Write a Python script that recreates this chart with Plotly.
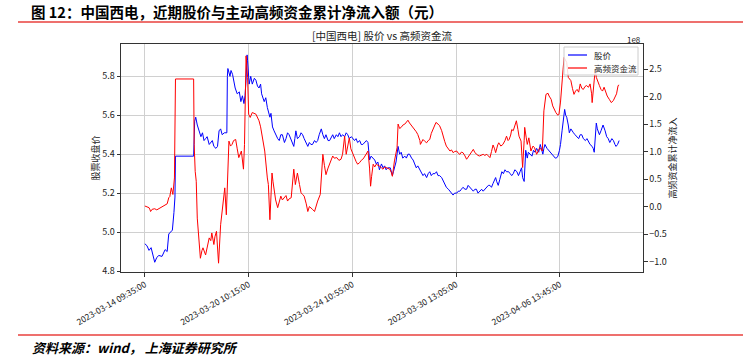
import plotly.graph_objects as go

# ---- data (bar index of 5-minute bars) ----
tick_idx = [0, 200, 400, 600, 800]
tick_labels = ["2023-03-14 09:35:00", "2023-03-20 10:15:00", "2023-03-24 10:55:00",
               "2023-03-30 13:05:00", "2023-04-06 13:45:00"]

price_idx = [0, 4, 8, 12, 19, 23, 27, 33, 39, 43, 46, 50, 53, 56, 58, 59, 94, 96, 98, 101,
             104, 108, 111, 114, 117, 120, 124, 127, 130, 133, 137, 140, 143, 146, 149, 153,
             156, 158, 159, 160, 164, 166, 169, 172, 174, 178, 182, 185, 188, 191, 193, 195,
             197, 198, 199, 201, 204, 207, 211, 214, 217, 220, 223, 225, 230, 233, 236, 241,
             243, 246, 249, 252, 256, 259, 262, 265, 269, 272, 275, 278, 282, 287, 289, 291,
             294, 298, 301, 304, 307, 311, 314, 317, 320, 323, 327, 330, 333, 336, 340, 343,
             346, 349, 353, 356, 359, 362, 365, 369, 372, 375, 378, 381, 385, 388, 391, 394,
             398, 401, 404, 407, 410, 414, 417, 420, 423, 427, 430, 431, 433, 436, 440, 443,
             446, 449, 452, 456, 459, 462, 465, 468, 473, 477, 479, 481, 484, 488, 491, 494,
             497, 501, 504, 507, 510, 514, 517, 520, 523, 526, 530, 533, 536, 539, 543, 546,
             549, 552, 555, 559, 562, 565, 568, 572, 575, 578, 581, 585, 588, 591, 594, 597,
             601, 604, 607, 610, 613, 617, 620, 623, 626, 630, 633, 636, 639, 642, 645, 649,
             652, 655, 659, 662, 665, 668, 671, 674, 676, 678, 681, 684, 688, 691, 694, 697,
             701, 704, 707, 710, 713, 717, 720, 723, 726, 728, 731, 734, 737, 739, 742, 746,
             749, 752, 755, 759, 762, 765, 767, 769, 771, 775, 778, 781, 784, 788, 791, 793,
             796, 799, 801, 804, 806, 809, 811, 813, 816, 818, 821, 823, 826, 829, 832, 836,
             839, 842, 845, 849, 852, 855, 858, 862, 864, 866, 868, 870, 872, 876, 879, 883,
             887, 890, 893, 896, 900, 903, 906, 908, 911, 913, 914]
price = [4.94, 4.93, 4.906, 4.92, 4.845, 4.87, 4.88, 4.875, 4.91, 4.90, 4.99, 5.00, 5.01, 5.10,
         5.18, 5.39, 5.39, 5.57, 5.59, 5.55, 5.52, 5.49, 5.51, 5.47, 5.48, 5.49, 5.45, 5.46,
         5.47, 5.44, 5.43, 5.44, 5.52, 5.53, 5.50, 5.51, 5.51, 5.51, 5.80, 5.84, 5.80, 5.83,
         5.81, 5.77, 5.74, 5.71, 5.72, 5.67, 5.70, 5.66, 5.70, 5.78, 5.91, 5.88, 5.85, 5.76,
         5.80, 5.76, 5.79, 5.78, 5.75, 5.74, 5.76, 5.71, 5.67, 5.69, 5.64, 5.59, 5.61, 5.54,
         5.52, 5.50, 5.48, 5.47, 5.50, 5.50, 5.46, 5.48, 5.51, 5.50, 5.47, 5.44, 5.48, 5.52,
         5.48, 5.49, 5.51, 5.50, 5.48, 5.46, 5.44, 5.46, 5.45, 5.45, 5.47, 5.46, 5.47, 5.50,
         5.53, 5.50, 5.48, 5.50, 5.47, 5.47, 5.49, 5.50, 5.48, 5.50, 5.49, 5.51, 5.49, 5.50,
         5.49, 5.51, 5.50, 5.48, 5.49, 5.48, 5.47, 5.48, 5.46, 5.47, 5.45, 5.45, 5.46, 5.47,
         5.46, 5.42, 5.37, 5.39, 5.38, 5.37, 5.35, 5.36, 5.32, 5.35, 5.33, 5.34, 5.32, 5.33,
         5.33, 5.29, 5.31, 5.33, 5.36, 5.44, 5.40, 5.41, 5.38, 5.39, 5.38, 5.40, 5.40, 5.38,
         5.37, 5.35, 5.33, 5.34, 5.32, 5.31, 5.29, 5.30, 5.28, 5.30, 5.31, 5.29, 5.30, 5.30,
         5.31, 5.29, 5.29, 5.28, 5.26, 5.24, 5.23, 5.22, 5.21, 5.20, 5.19, 5.20, 5.20, 5.21,
         5.21, 5.22, 5.23, 5.22, 5.22, 5.24, 5.23, 5.22, 5.21, 5.22, 5.22, 5.20, 5.21, 5.22,
         5.21, 5.22, 5.23, 5.24, 5.24, 5.23, 5.25, 5.27, 5.28, 5.26, 5.24, 5.27, 5.31, 5.30,
         5.32, 5.31, 5.31, 5.30, 5.29, 5.30, 5.32, 5.31, 5.29, 5.31, 5.33, 5.28, 5.26, 5.42,
         5.38, 5.41, 5.40, 5.39, 5.42, 5.41, 5.43, 5.41, 5.45, 5.42, 5.40, 5.43, 5.45, 5.43,
         5.42, 5.41, 5.40, 5.39, 5.38, 5.38, 5.39, 5.42, 5.45, 5.52, 5.58, 5.63, 5.60, 5.59,
         5.55, 5.51, 5.53, 5.52, 5.51, 5.50, 5.49, 5.48, 5.50, 5.50, 5.48, 5.47, 5.48, 5.46,
         5.45, 5.44, 5.43, 5.41, 5.47, 5.56, 5.53, 5.50, 5.52, 5.55, 5.52, 5.49, 5.48, 5.46,
         5.48, 5.47, 5.45, 5.44, 5.45, 5.47, 5.47]

flow_idx = [0, 2, 4, 8, 10, 11, 14, 19, 23, 27, 30, 33, 36, 43, 46, 48, 51, 54, 57, 59, 94,
            95, 97, 99, 101, 104, 107, 110, 112, 117, 120, 124, 127, 129, 133, 135, 138, 142,
            146, 149, 151, 154, 157, 160, 162, 165, 168, 171, 175, 178, 181, 186, 190, 192,
            195, 198, 200, 203, 207, 214, 217, 220, 223, 226, 231, 236, 238, 241, 243, 245,
            247, 249, 252, 256, 259, 262, 265, 269, 272, 275, 278, 282, 285, 287, 290, 292,
            294, 298, 301, 304, 307, 311, 314, 317, 320, 323, 327, 330, 333, 338, 341, 343,
            346, 349, 353, 356, 359, 362, 365, 370, 374, 378, 381, 385, 388, 391, 394, 397,
            401, 404, 407, 410, 414, 417, 420, 423, 427, 430, 433, 435, 437, 440, 443, 446,
            449, 452, 456, 459, 462, 465, 468, 472, 475, 477, 481, 486, 488, 491, 494, 497,
            501, 504, 507, 510, 514, 517, 520, 523, 526, 530, 531, 533, 536, 539, 543, 546,
            549, 552, 555, 559, 561, 565, 568, 572, 575, 578, 581, 585, 588, 591, 594, 597,
            601, 604, 607, 610, 613, 617, 620, 623, 626, 630, 633, 636, 639, 642, 645, 649,
            652, 655, 659, 662, 665, 668, 671, 674, 676, 680, 682, 686, 690, 694, 697, 700,
            702, 705, 707, 710, 714, 716, 719, 721, 725, 728, 731, 732, 735, 737, 740, 744,
            748, 751, 755, 759, 761, 766, 769, 773, 777, 779, 783, 786, 789, 792, 796, 798,
            801, 803, 806, 808, 811, 813, 816, 818, 821, 824, 827, 830, 833, 836, 839, 842,
            845, 848, 851, 855, 858, 861, 862, 866, 868, 870, 872, 876, 879, 882, 885, 888,
            891, 895, 899, 903, 906, 909, 912, 914]
flow_1e8 = [0.01, 0.0, -0.01, -0.02, -0.06, -0.09, -0.05, -0.04, -0.06, -0.04, -0.03, 0.0,
            0.01, 0.05, 0.16, 0.18, 0.34, 0.22, 0.52, 2.32, 2.32, 1.13, 0.64, 0.46, -0.21,
            -0.57, -0.94, -0.80, -0.75, -0.88, -0.72, -0.57, -0.62, -0.48, -0.69, -0.55,
            -0.45, -1.03, -0.33, -0.05, 0.10, 0.34, -0.15, 0.95, 1.19, 1.10, 1.13, 1.20,
            1.22, 1.05, 0.89, 1.01, 0.68, 1.13, 2.74, 2.35, 1.68, 1.62, 1.71, 1.68, 1.62,
            1.56, 1.45, 1.25, 1.01, 0.52, 0.40, -0.24, 0.30, 0.61, 0.45, 0.28, 0.12, -0.02,
            0.10, 0.19, 0.12, 0.16, 0.20, 0.10, 0.14, 0.16, 0.45, 0.68, 0.40, 0.52, 0.61,
            0.40, 0.25, 0.22, 0.19, 0.05, -0.09, 0.0, -0.02, -0.05, -0.09, 0.02, 0.10, 0.22,
            0.60, 0.95, 0.75, 0.58, 0.70, 0.77, 0.82, 0.92, 0.88, 0.89, 0.84, 0.86, 0.95,
            1.28, 0.95, 1.10, 1.25, 1.05, 0.95, 0.90, 0.82, 0.77, 0.80, 0.84, 0.86, 0.90,
            0.96, 1.01, 0.70, 0.37, 0.55, 0.77, 0.72, 0.77, 0.75, 0.74, 0.70, 0.68, 0.72,
            0.71, 0.70, 0.68, 0.62, 0.55, 0.83, 1.07, 1.50, 1.42, 1.44, 1.48, 1.50, 1.53,
            1.57, 1.52, 1.47, 1.45, 1.40, 1.36, 1.31, 1.20, 1.13, 1.18, 1.22, 1.19, 1.16,
            1.20, 1.22, 1.33, 1.40, 1.48, 1.53, 1.50, 1.47, 1.38, 1.25, 1.18, 1.10, 1.05,
            1.01, 1.03, 0.98, 1.00, 1.01, 0.97, 0.95, 0.99, 0.98, 0.92, 0.86, 0.90, 0.95,
            1.00, 1.04, 0.98, 0.95, 0.93, 0.92, 0.94, 0.95, 0.93, 0.95, 0.92, 0.89, 1.00,
            1.12, 1.05, 0.98, 1.12, 1.16, 1.10, 1.13, 1.20, 1.28, 1.20, 1.22, 1.30, 1.40,
            1.38, 1.50, 1.56, 1.40, 1.28, 1.19, 0.71, 1.20, 1.44, 1.25, 1.13, 1.25, 1.01,
            1.10, 1.07, 0.95, 1.05, 1.07, 1.01, 1.74, 2.04, 2.06, 2.01, 1.95, 1.83, 1.76,
            1.71, 1.66, 1.68, 1.90, 2.23, 2.50, 2.71, 2.66, 2.62, 2.35, 2.32, 2.29, 2.15,
            2.04, 2.10, 2.13, 2.08, 2.23, 2.15, 2.13, 2.18, 2.20, 2.17, 2.23, 2.05, 1.89,
            2.30, 2.50, 2.35, 2.29, 2.20, 2.13, 2.10, 2.17, 2.08, 2.01, 1.95, 1.89, 1.93,
            1.98, 2.05, 2.20, 2.21]

series_names = ["股价", "高频资金流"]
series_colors = ["#0000ff", "#ff0000"]

CJK = "Noto Sans CJK SC"
W, H = 743, 358
L, T, R, B = 121, 44, 100, 86
PW, PH = W - L - R, H - T - B


def px(x):
    """page pixel x -> paper coordinate"""
    return (x - L) / PW


def py(y):
    """page pixel y -> paper coordinate"""
    return (H - B - y) / PH


fig = go.Figure()
fig.add_trace(go.Scatter(x=price_idx, y=price, mode="lines", name=series_names[0],
                         line=dict(color=series_colors[0], width=1)))
fig.add_trace(go.Scatter(x=flow_idx, y=flow_1e8, mode="lines", name=series_names[1],
                         yaxis="y2", line=dict(color=series_colors[1], width=1)))

tickfont = dict(family=CJK, size=9, color="#222")
fig.update_layout(
    width=W, height=H,
    margin=dict(l=L, r=R, t=T, b=B, pad=0, autoexpand=False),
    paper_bgcolor="white", plot_bgcolor="white",
    font=dict(family=CJK, color="#222"),
    showlegend=False,
    xaxis=dict(range=[-46, 960], tickmode="array", tickvals=tick_idx, ticktext=tick_labels,
               tickangle=-30, tickfont=dict(family=CJK, size=8.5, color="#222"),
               ticks="outside", ticklen=3.5, tickcolor="#333", automargin=False,
               showgrid=True, gridcolor="#d0d0d0", gridwidth=1, zeroline=False,
               showline=True, linecolor="#333", linewidth=1, mirror=True),
    yaxis=dict(range=[4.795, 5.966], tickvals=[4.8, 5.0, 5.2, 5.4, 5.6, 5.8],
               ticktext=["4.8", "5.0", "5.2", "5.4", "5.6", "5.8"], tickfont=tickfont,
               ticks="outside", ticklen=3.5, tickcolor="#333", automargin=False,
               showgrid=True, gridcolor="#d0d0d0", gridwidth=1, zeroline=False,
               showline=True, linecolor="#333", linewidth=1, mirror=True,
               title=dict(text="股票收盘价", font=dict(family=CJK, size=9, color="#222"),
                          standoff=1)),
    yaxis2=dict(range=[-1.19, 2.956], overlaying="y", side="right",
                tickvals=[-1.0, -0.5, 0.0, 0.5, 1.0, 1.5, 2.0, 2.5],
                ticktext=["\u22121.0", "\u22120.5", "0.0", "0.5", "1.0", "1.5", "2.0", "2.5"],
                tickfont=tickfont, ticks="outside", ticklen=3.5, tickcolor="#333",
                automargin=False,
                showgrid=False, zeroline=False, showline=True, linecolor="#333", linewidth=1,
                title=dict(text="高频资金累计净流入", font=dict(family=CJK, size=9, color="#222"),
                           standoff=3)),
)

# legend box (matplotlib-style, compact)
fig.add_shape(type="rect", xref="paper", yref="paper", x0=px(564), x1=px(638),
              y0=py(75), y1=py(47), fillcolor="rgba(255,255,255,0.85)",
              line=dict(color="#cccccc", width=1), layer="above")
for k, yy in enumerate((55, 68)):
    fig.add_shape(type="line", xref="paper", yref="paper", x0=px(568), x1=px(587),
                  y0=py(yy), y1=py(yy), line=dict(color=series_colors[k], width=1.2),
                  layer="above")
    fig.add_annotation(text=series_names[k], xref="paper", yref="paper", x=px(592),
                       y=py(yy), xanchor="left", yanchor="middle", showarrow=False,
                       font=dict(family=CJK, size=8.5, color="#222"))

fig.add_annotation(text="[中国西电] 股价 vs 高频资金流", xref="paper", yref="paper",
                   x=0.5, y=py(35), xanchor="center", yanchor="middle", showarrow=False,
                   font=dict(family=CJK, size=10.5, color="#222"))
fig.add_annotation(text="1e8", xref="paper", yref="paper", x=1.0, y=py(39.5),
                   xanchor="right", yanchor="middle", showarrow=False,
                   font=dict(family=CJK, size=8, color="#222"))
fig.add_annotation(text="<b>图 12：中国西电，近期股价与主动高频资金累计净流入额（元）</b>",
                   xref="paper", yref="paper", x=px(29), y=py(11), xanchor="left",
                   yanchor="middle", showarrow=False,
                   font=dict(family=CJK, size=14.5, color="#000"))
fig.add_annotation(text="<b><i>资料来源：wind， 上海证券研究所</i></b>",
                   xref="paper", yref="paper", x=px(30), y=py(347), xanchor="left",
                   yanchor="middle", showarrow=False,
                   font=dict(family=CJK, size=13, color="#000"))
for yy in (22, 335):
    fig.add_shape(type="line", xref="paper", yref="paper", x0=px(18), x1=px(743),
                  y0=py(yy), y1=py(yy), line=dict(color="#e8413c", width=1.5))

fig.write_html("out.html", config={"displayModeBar": False},
               post_script="document.body.style.margin='0';document.body.style.padding='0';")
